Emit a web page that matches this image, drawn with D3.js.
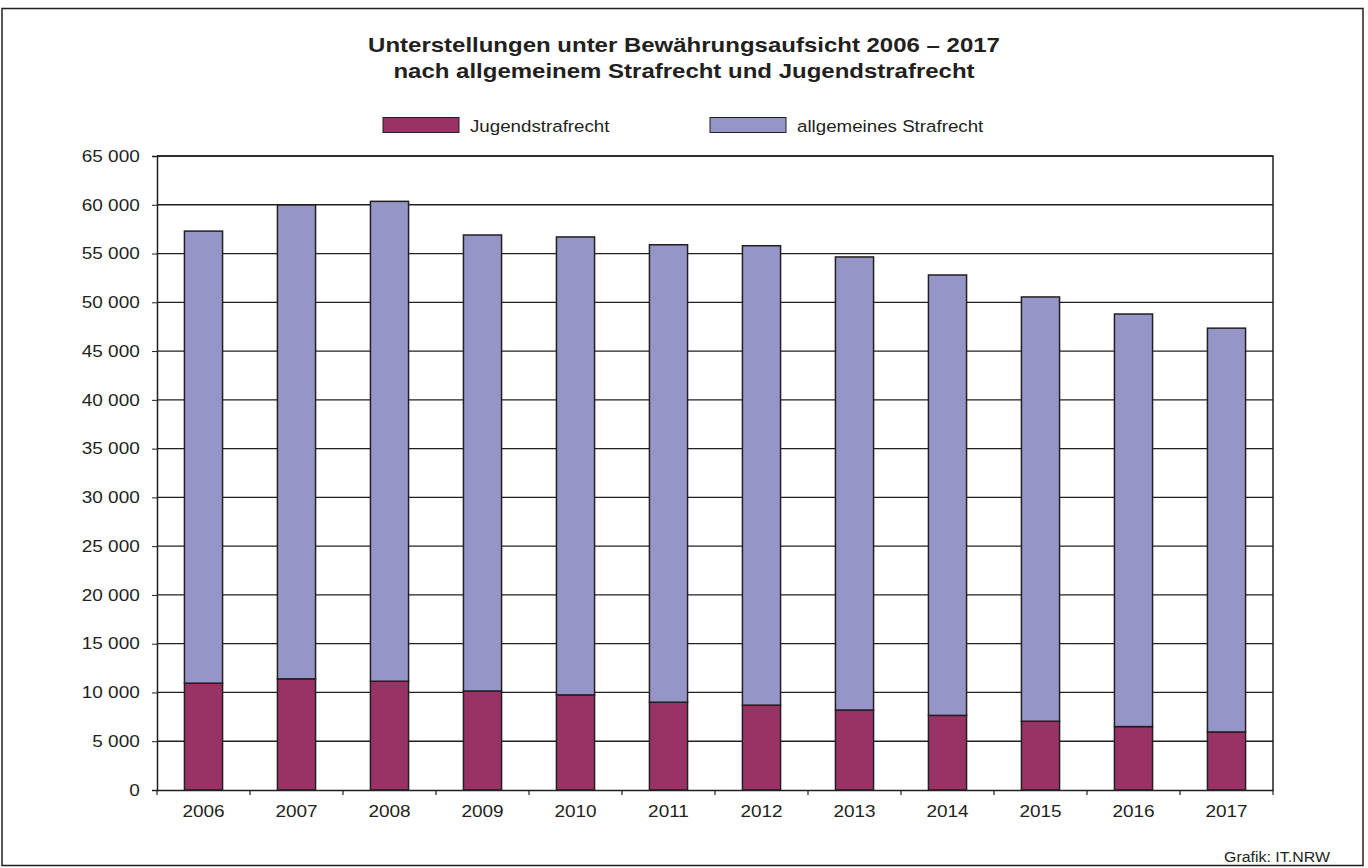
<!DOCTYPE html>
<html><head><meta charset="utf-8">
<script src="https://cdn.jsdelivr.net/npm/d3@7"></script>
<style>body{margin:0;background:#fff}svg{display:block}text{font-family:"Liberation Sans",Arial,sans-serif;fill:#231f20}</style>
</head><body>
<script>
const years = ["2006","2007","2008","2009","2010","2011","2012","2013","2014","2015","2016","2017"];
const jugend = [10950, 11400, 11150, 10150, 9750, 9000, 8700, 8200, 7650, 7050, 6500, 5950];
const total = [57300, 59980, 60350, 56900, 56700, 55900, 55800, 54650, 52800, 50550, 48800, 47350];
const allgemein = total.map((t,i)=>t-jugend[i]);
const yTicks = d3.range(0, 65001, 5000);
const seriesNames = ["Jugendstrafrecht","allgemeines Strafrecht"];
const colors = ["#993366","#9595c8"];

const W=1368,H=868, SX=1.15;
const svg=d3.select("body").append("svg").attr("width",W).attr("height",H);
svg.append("rect").attr("x",2).attr("y",8.5).attr("width",1361).attr("height",857).attr("fill","none").attr("stroke","#231f20").attr("stroke-width",1.5);

const x0=157,x1=1273,y0=790,y1=156;
const x=d3.scaleBand().domain(years).range([x0,x1]).paddingInner(0.59).paddingOuter(0.295);
const y=d3.scaleLinear().domain([0,65000]).range([y0,y1]);
const fmt=v=>d3.format(",")(v).replace(/,/g," ");

// grid
svg.append("g").selectAll("line").data(yTicks.filter(d=>d>0)).join("line")
 .attr("x1",x0).attr("x2",x1).attr("y1",d=>y(d)).attr("y2",d=>y(d))
 .attr("stroke","#231f20").attr("stroke-width",1.3);

// stacked
const data=years.map((yr,i)=>({year:yr,j:jugend[i],a:allgemein[i]}));
const stack=d3.stack().keys(["j","a"])(data);
svg.append("g").selectAll("g").data(stack).join("g").attr("fill",(d,i)=>colors[i])
 .selectAll("rect").data(d=>d).join("rect")
 .attr("x",d=>x(d.data.year)).attr("width",x.bandwidth())
 .attr("y",d=>y(d[1])).attr("height",d=>y(d[0])-y(d[1]))
 .attr("stroke","#231f20").attr("stroke-width",1.5);

// frame
svg.append("path").attr("d",`M${x0},${y1}H${x1}V${y0}`).attr("fill","none").attr("stroke","#231f20").attr("stroke-width",1.5);

// y axis
const ya=svg.append("g").attr("transform",`translate(${x0},0)`).call(d3.axisLeft(y).tickValues(yTicks).tickFormat(fmt).tickSize(5).tickPadding(10));
ya.select(".domain").attr("stroke","#231f20").attr("stroke-width",1.5);
ya.selectAll(".tick line").attr("stroke","#231f20");
ya.selectAll("text").attr("font-size",16.5).attr("font-family","Liberation Sans, Arial, sans-serif").attr("fill","#231f20").attr("transform",`scale(${SX},1)`);

// x axis
const xa=svg.append("g").attr("transform",`translate(0,${y0})`).call(d3.axisBottom(x).tickSize(0).tickPadding(15));
xa.select(".domain").attr("stroke","#231f20").attr("stroke-width",1.5);
xa.selectAll("text").attr("font-size",16.5).attr("font-family","Liberation Sans, Arial, sans-serif").attr("fill","#231f20").attr("transform",`scale(${SX},1)`);
const step=x.step();
svg.append("g").selectAll("line").data(d3.range(0,13)).join("line")
 .attr("x1",i=>x0+i*step).attr("x2",i=>x0+i*step).attr("y1",y0).attr("y2",y0+5)
 .attr("stroke","#231f20").attr("stroke-width",1.2);

// title
svg.append("text").attr("transform","translate(684,52) scale(1.2,1)").attr("text-anchor","middle").attr("font-size",20).attr("font-weight","bold").text("Unterstellungen unter Bewährungsaufsicht 2006 – 2017");
svg.append("text").attr("transform","translate(684,78) scale(1.2,1)").attr("text-anchor","middle").attr("font-size",20).attr("font-weight","bold").text("nach allgemeinem Strafrecht und Jugendstrafrecht");

// legend
const lx=[383,710];
seriesNames.forEach((n,i)=>{
 svg.append("rect").attr("x",lx[i]).attr("y",117.5).attr("width",76).attr("height",15).attr("fill",colors[i]).attr("stroke","#231f20").attr("stroke-width",1);
 svg.append("text").attr("transform",`translate(${lx[i]+87},132) scale(${SX},1)`).attr("font-size",16.3).text(n);
});

svg.append("text").attr("transform",`translate(1330,862) scale(1.1,1)`).attr("text-anchor","end").attr("font-size",14.5).text("Grafik: IT.NRW");
</script>
</body></html>
